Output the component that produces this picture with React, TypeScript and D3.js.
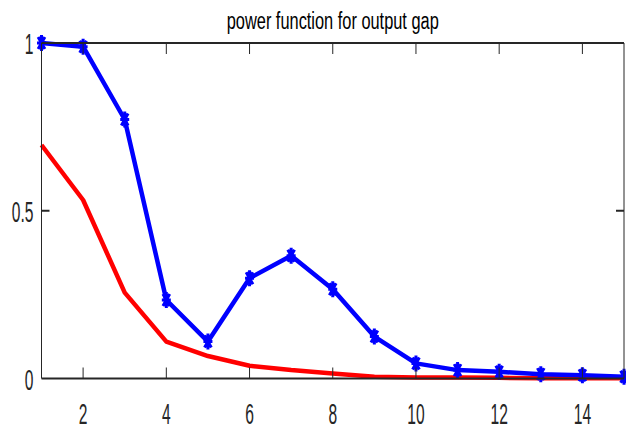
import React from 'react';
import * as d3 from 'd3';

const steps = [1, 2, 3, 4, 5, 6, 7, 8, 9, 10, 11, 12, 13, 14, 15];
const bluePower = [1.0, 0.989, 0.772, 0.234, 0.11, 0.299, 0.366, 0.266, 0.125, 0.045, 0.025, 0.02, 0.013, 0.01, 0.005];
const redPower = [0.696, 0.532, 0.256, 0.11, 0.067, 0.038, 0.025, 0.015, 0.005, 0.003, 0.003, 0.002, 0.001, 0.001, 0.001];
const xTicks = [2, 4, 6, 8, 10, 12, 14];
const yTicks = [0, 0.5, 1];
const yTickLabels = ['0', '0.5', '1'];
const title = 'power function for output gap';

const W = 626;
const H = 430;
const left = 41.5, right = 624, top = 43, bottom = 378.5;
const axisColor = '#262626';
const font = '"Liberation Sans", Arial, sans-serif';

const App: React.FC = () => {
  const x = d3.scaleLinear().domain([1, 15]).range([left, right]);
  const y = d3.scaleLinear().domain([0, 1]).range([bottom, top]);

  const line = d3.line<number>()
    .x((_, i) => x(steps[i]))
    .y(d => y(d));

  // MATLAB-ish asterisk marker, stretched vertically like the picture
  const star = (cx: number, cy: number, key: string) => {
    const rx = 4.5, ry = 8;
    const d = `M${cx - rx},${cy}L${cx + rx},${cy}` +
      `M${cx},${cy - ry}L${cx},${cy + ry}` +
      `M${cx - rx * 0.75},${cy - ry * 0.75}L${cx + rx * 0.75},${cy + ry * 0.75}` +
      `M${cx - rx * 0.75},${cy + ry * 0.75}L${cx + rx * 0.75},${cy - ry * 0.75}`;
    return (
      <g key={key}>
        <ellipse cx={cx} cy={cy} rx={2.5} ry={5} fill="#0000ff" />
        <path d={d} stroke="#0000ff" strokeWidth={3} fill="none" />
      </g>
    );
  };

  return (
    <svg width={W} height={H} style={{ position: 'absolute', left: 0, top: 0, background: '#fff' }}>
      <rect width={W} height={H} fill="#fff" />

      {/* lines */}
      <path d={line(redPower) || ''} fill="none" stroke="#ff0000" strokeWidth={4.5} strokeLinejoin="round" />
      <path d={line(bluePower) || ''} fill="none" stroke="#0000ff" strokeWidth={4.5} strokeLinejoin="round" />
      {bluePower.map((v, i) => star(x(steps[i]), y(v), `m${i}`))}

      {/* box */}
      <line x1={left} x2={right} y1={top} y2={top} stroke={axisColor} strokeWidth={2} />
      <line x1={left} x2={right} y1={bottom} y2={bottom} stroke={axisColor} strokeWidth={2} />
      <line x1={left} x2={left} y1={top} y2={bottom} stroke={axisColor} strokeWidth={1} />
      <line x1={right} x2={right} y1={top} y2={bottom} stroke={axisColor} strokeWidth={1} />

      {/* x ticks, bottom and top */}
      {xTicks.map(t => (
        <g key={`xt${t}`}>
          <line x1={x(t)} x2={x(t)} y1={bottom} y2={bottom - 11} stroke={axisColor} strokeWidth={1} />
          <line x1={x(t)} x2={x(t)} y1={top} y2={top + 11} stroke={axisColor} strokeWidth={1} />
          <text
            transform={`translate(${x(t)},${424}) scale(0.52,1)`}
            textAnchor="middle"
            fontFamily={font}
            fontSize={30}
            fill={axisColor}
          >{t}</text>
        </g>
      ))}

      {/* y ticks, left and right */}
      {yTicks.map((t, i) => (
        <g key={`yt${t}`}>
          {t > 0 && t < 1 && (
            <>
              <line x1={left} x2={left + 8} y1={y(t)} y2={y(t)} stroke={axisColor} strokeWidth={2} />
              <line x1={right} x2={right - 8} y1={y(t)} y2={y(t)} stroke={axisColor} strokeWidth={2} />
            </>
          )}
          <text
            transform={`translate(${33.5},${y(t) + 11}) scale(0.52,1)`}
            textAnchor="end"
            fontFamily={font}
            fontSize={30}
            fill={axisColor}
          >{yTickLabels[i]}</text>
        </g>
      ))}

      <text
        x={(left + right) / 2}
        y={28.5}
        textAnchor="middle"
        fontFamily={font}
        fontSize={23}
        textLength={212}
        lengthAdjust="spacingAndGlyphs"
        fill="#000"
      >{title}</text>
    </svg>
  );
};

export default App;
